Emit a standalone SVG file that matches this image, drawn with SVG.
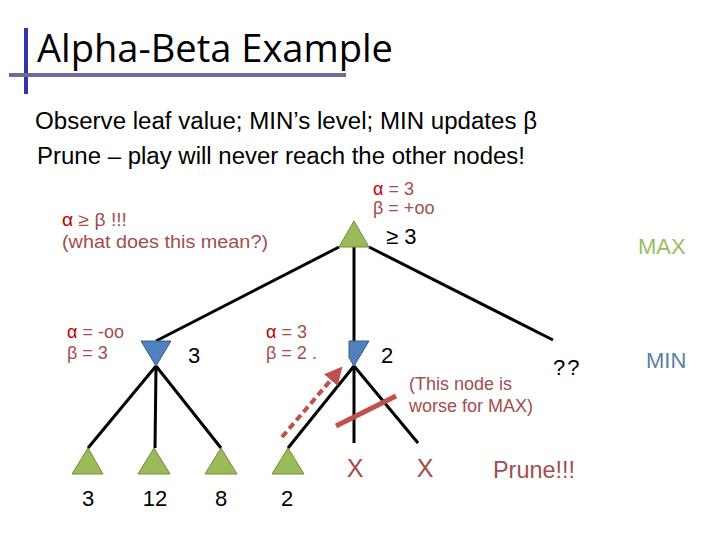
<svg xmlns="http://www.w3.org/2000/svg" width="720" height="540" viewBox="0 0 720 540">
<style>
.t{font-family:"Liberation Sans",Arial,sans-serif}
.note{font-family:"Liberation Sans",Arial,sans-serif;font-size:18px;fill:#a34d4d}
.a{fill:#c00000}
.val{font-family:"Liberation Sans",Arial,sans-serif;font-size:22px;fill:#000}
.max{fill:#9bbb59;stroke:#71893f;stroke-width:1}
.min{fill:#4f81bd;stroke:#385d8a;stroke-width:1}
.edge{stroke:#000;stroke-width:3;fill:none}
.x{font-family:"Liberation Sans",Arial,sans-serif;font-size:25px;fill:#a34d4d}
</style>
<defs>
<marker id="ah" markerWidth="4.5" markerHeight="4.5" refX="2" refY="2.25" orient="auto" markerUnits="strokeWidth">
<path d="M0,0 L4.5,2.25 L0,4.5 Z" fill="#c0504d"/>
</marker>
</defs>
<rect width="720" height="540" fill="#fff"/>
<g id="title">
<rect x="24" y="28" width="4" height="66" fill="#3333aa"/>
<rect x="9" y="73" width="337" height="4" fill="#6b6b9b"/>
<text x="37" y="62" font-family="'Open Sans',sans-serif" font-size="38" fill="#000" textLength="356" lengthAdjust="spacingAndGlyphs">Alpha-Beta Example</text>
</g>
<g id="body">
<text class="t" x="35" y="129" font-size="23" textLength="502" lengthAdjust="spacingAndGlyphs">Observe leaf value; MIN’s level; MIN updates β</text>
<text class="t" x="37" y="164" font-size="23" textLength="488" lengthAdjust="spacingAndGlyphs">Prune – play will never reach the other nodes!</text>
</g>
<g id="connectors">
<line class="edge" x1="339" y1="247" x2="156" y2="341"/>
<line class="edge" x1="354" y1="247" x2="354" y2="341"/>
<line class="edge" x1="369" y1="247" x2="553" y2="340"/>
<line class="edge" x1="156" y1="366" x2="88" y2="448"/>
<line class="edge" x1="156" y1="366" x2="155" y2="448"/>
<line class="edge" x1="156" y1="366" x2="221" y2="448"/>
<line class="edge" x1="354" y1="366" x2="288" y2="448"/>
<line class="edge" x1="354" y1="366" x2="354" y2="443"/>
<line class="edge" x1="354" y1="366" x2="418" y2="443"/>
<line x1="336" y1="426" x2="396" y2="396" stroke="#c0504d" stroke-width="5"/>
<line x1="282" y1="437" x2="336" y2="374" stroke="#c0504d" stroke-width="4" stroke-dasharray="7,4" marker-end="url(#ah)"/>
</g>
<g id="root">
<polygon class="max" points="354,221 369,247 339,247"/>
<text class="note" x="373" y="195"><tspan class="a">α</tspan> = 3</text>
<text class="note" x="373" y="214">β = +oo</text>
<text class="val" x="386" y="244" font-size="21">≥ 3</text>
</g>
<g id="note-ab">
<text class="note" x="62" y="226" font-size="19" textLength="65" lengthAdjust="spacingAndGlyphs"><tspan class="a">α</tspan> ≥ β !!!</text>
<text class="note" x="62" y="248" font-size="19" textLength="206" lengthAdjust="spacingAndGlyphs">(what does this mean?)</text>
</g>
<g id="min-left">
<polygon class="min" points="141,341 171,341 156,366"/>
<text class="note" x="67" y="338"><tspan class="a">α</tspan> = -oo</text>
<text class="note" x="67" y="359">β = 3</text>
<text class="val" x="188" y="363">3</text>
</g>
<g id="min-mid">
<polygon class="min" points="349,341 369,341 354,366 349,357.7"/>
<text class="note" x="266" y="338"><tspan class="a">α</tspan> = 3</text>
<text class="note" x="266" y="359">β = 2  .</text>
<text class="val" x="381" y="363">2</text>
</g>
<g id="min-right">
<text class="val" x="553" y="375" font-size="18" letter-spacing="2">??</text>
</g>
<g id="leaf1"><polygon class="max" points="88,448 103,474 72,474"/><text class="val" x="88" y="506" text-anchor="middle">3</text></g>
<g id="leaf2"><polygon class="max" points="154,448 170,474 138,474"/><text class="val" x="155" y="506" text-anchor="middle">12</text></g>
<g id="leaf3"><polygon class="max" points="221,448 237,474 205,474"/><text class="val" x="221" y="506" text-anchor="middle">8</text></g>
<g id="leaf4"><polygon class="max" points="288,448 304,474 272,474"/><text class="val" x="287" y="506" text-anchor="middle">2</text></g>
<g id="pruned">
<text class="x" x="355" y="477" text-anchor="middle">X</text>
<text class="x" x="425" y="477" text-anchor="middle">X</text>
<text class="t" x="493" y="478" font-size="23" fill="#a34d4d" textLength="82" lengthAdjust="spacingAndGlyphs">Prune!!!</text>
<text class="t" x="409" y="390" font-size="18" fill="#a34d4d">(This node is</text>
<text class="t" x="409" y="412" font-size="18" fill="#a34d4d">worse for MAX)</text>
</g>
<g id="levels">
<text class="t" x="638" y="254" font-size="22" fill="#9bbb59">MAX</text>
<text class="t" x="646" y="368" font-size="22" fill="#5a7fa8">MIN</text>
</g>
</svg>
